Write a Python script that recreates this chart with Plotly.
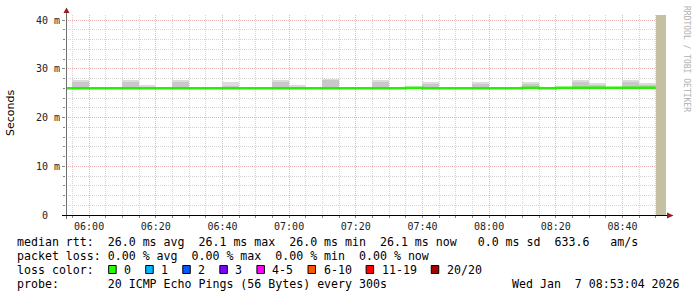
import plotly.graph_objects as go
import pandas as pd

# ---------------- data ----------------
DAY = "2026-01-07"
slot_start = pd.date_range(f"{DAY} 05:50", periods=36, freq="5min")
STEP_MS = 300000

median_ms = [26.0, 26.0, 26.0, 26.0, 26.0, 26.0, 26.0, 26.0, 26.0, 26.0,
             26.0, 26.0, 26.0, 26.0, 26.0, 26.0, 26.0, 26.0, 26.0, 26.0,
             26.0, 26.1, 26.0, 26.0, 26.0, 26.0, 26.0, 26.0, 26.1, 26.0,
             26.1, 26.1, 26.1, 26.1, 26.1, 26.1]

smoke_low = [None, 25.9, None, None, 25.9, 25.9, None, 25.9, None, None,
             25.9, None, None, 25.9, 25.9, None, 25.9, None, None, 25.9,
             None, None, 25.9, None, None, 25.9, None, None, 25.9, None,
             None, 25.9, 25.9, None, 25.9, 25.9]
smoke_mid = [None, 27.3, None, None, 27.3, 26.3, None, 27.4, None, None,
             26.4, None, None, 27.3, 26.3, None, 27.7, None, None, 27.3,
             None, None, 26.9, None, None, 26.9, None, None, 26.9, None,
             None, 27.3, 26.7, None, 27.3, 26.7]
smoke_high = [None, 27.5, None, None, 27.7, 26.5, None, 27.5, None, None,
              27.3, None, None, 27.7, 26.5, None, 27.9, None, None, 27.7,
              None, None, 27.3, None, None, 27.3, None, None, 27.3, None,
              None, 27.5, 26.9, None, 27.5, 26.9]

unknown_start = f"{DAY} 08:50:00"
unknown_end = f"{DAY} 08:53:04"
x_start = f"{DAY} 05:53:04"
x_end = f"{DAY} 08:53:04"
y_top = 41.03

y_tickvals = [0, 10, 20, 30, 40]
y_ticktext = ["0\u00a0\u00a0", "10 m", "20 m", "30 m", "40 m"]

legend_line1 = "median rtt:  26.0 ms avg  26.1 ms max  26.0 ms min  26.1 ms now   0.0 ms sd  633.6   am/s"
legend_line2 = "packet loss: 0.00 % avg  0.00 % max  0.00 % min  0.00 % now"
legend_line3 = "loss color:"
loss_labels = ["0", "1", "2", "3", "4-5", "6-10", "11-19", "20/20"]
loss_colors = ["#26ff00", "#00b8ff", "#0059ff", "#7e00ff", "#ff00ff", "#ff5500", "#ff0000", "#a10000"]
legend_line4 = "probe:       20 ICMP Echo Pings (56 Bytes) every 300s"
date_text = "Wed Jan  7 08:53:04 2026"
watermark = "RRDTOOL / TOBI OETIKER"

# ---------------- geometry helpers ----------------
W, H = 697, 297
L, R, T, B = 66, 666, 15, 215


def px(x):
    return (x - L) / (R - L)


def py(y):
    return (B - y) / (B - T)


def nb(s):
    return s.replace(" ", "\u00a0")


MONO = "DejaVu Sans Mono"
CW = 7.02  # char width of legend font

fig = go.Figure()

# smoke
idx = [i for i in range(len(slot_start)) if smoke_mid[i] is not None]
centers = [slot_start[i] + pd.Timedelta(milliseconds=STEP_MS / 2) for i in idx]
fig.add_trace(go.Bar(
    x=centers, base=[smoke_low[i] for i in idx],
    y=[smoke_mid[i] - smoke_low[i] for i in idx],
    width=[STEP_MS] * len(idx), marker=dict(color="#c8c8c8", line=dict(width=0)),
    hoverinfo="skip"))
fig.add_trace(go.Bar(
    x=centers, base=[smoke_mid[i] for i in idx],
    y=[smoke_high[i] - smoke_mid[i] for i in idx],
    width=[STEP_MS] * len(idx), marker=dict(color="#dcdcdc", line=dict(width=0)),
    hoverinfo="skip"))

# unknown area
us, ue = pd.Timestamp(unknown_start), pd.Timestamp(unknown_end)
fig.add_trace(go.Bar(
    x=[us + (ue - us) / 2], base=[0], y=[y_top],
    width=[(ue - us).total_seconds() * 1000],
    marker=dict(color="#c3c1a1", line=dict(width=0)), hoverinfo="skip"))

# median line
mx = list(slot_start) + [slot_start[-1] + pd.Timedelta(milliseconds=STEP_MS)]
my = median_ms + [median_ms[-1]]
fig.add_trace(go.Scatter(x=mx, y=my, mode="lines", line=dict(color="#26f000", width=2.6, shape="hv"),
                         hoverinfo="skip"))

grid_minor = "#d4d4d4"
grid_major = "#ebb4b4"

fig.update_layout(
    width=W, height=H, margin=dict(l=L, r=W - R, t=T, b=H - B),
    paper_bgcolor="white", plot_bgcolor="white", showlegend=False,
    barmode="overlay", bargap=0,
    xaxis=dict(
        type="date", range=[x_start, x_end],
        tick0=f"{DAY} 06:00", dtick=20 * 60 * 1000, tickformat="%H:%M",
        showgrid=True, gridcolor=grid_major, griddash="1px,1px", gridwidth=1,
        ticks="outside", ticklen=2, tickcolor="#888",
        tickfont=dict(family=MONO, size=10, color="#222"),
        minor=dict(dtick=5 * 60 * 1000, showgrid=True, gridcolor=grid_minor,
                   griddash="1px,1px", ticks="outside", ticklen=2, tickcolor="#888"),
        showline=False, zeroline=False, fixedrange=True,
    ),
    yaxis=dict(
        range=[0, y_top], tickvals=y_tickvals, ticktext=y_ticktext,
        showgrid=True, gridcolor=grid_major, griddash="1px,1px", gridwidth=1,
        ticks="outside", ticklen=3, tickcolor="#888",
        tickfont=dict(family=MONO, size=10, color="#222"),
        minor=dict(dtick=2, showgrid=True, gridcolor=grid_minor,
                   griddash="1px,1px", ticks="outside", ticklen=2, tickcolor="#888"),
        showline=False, zeroline=False, fixedrange=True,
    ),
)

shapes = []
# axis lines
shapes.append(dict(type="line", xref="paper", yref="paper", x0=px(66.5), x1=px(66.5),
                   y0=py(219), y1=py(11), line=dict(color="#707070", width=1)))
shapes.append(dict(type="line", xref="paper", yref="paper", x0=px(62), x1=px(668),
                   y0=py(215.5), y1=py(215.5), line=dict(color="#000", width=1)))
# arrows
arrow_col = "#9b1c1c"
shapes.append(dict(type="path", xref="paper", yref="paper",
                   path=f"M {px(63.5)} {py(13)} L {px(69.5)} {py(13)} L {px(66.5)} {py(7.5)} Z",
                   fillcolor=arrow_col, line=dict(width=0)))
shapes.append(dict(type="path", xref="paper", yref="paper",
                   path=f"M {px(667)} {py(212.5)} L {px(667)} {py(218.5)} L {px(673.5)} {py(215.5)} Z",
                   fillcolor=arrow_col, line=dict(width=0)))

annotations = []
ann_font = dict(family=MONO, size=11.6, color="#000")


def text_at(x, ycenter, s, anchor="left", font=ann_font):
    annotations.append(dict(xref="paper", yref="paper", x=px(x), y=py(ycenter),
                            xanchor=anchor, yanchor="middle", text=nb(s), showarrow=False,
                            font=font, borderpad=0))


X0 = 16
text_at(X0, 241.5, legend_line1)
text_at(X0, 255.5, legend_line2)
text_at(X0, 269.5, legend_line3)
text_at(X0, 283.5, legend_line4)
text_at(681, 283.5, date_text, anchor="right")

# loss color swatches
bx = X0 + 13 * CW + 1.4
for lab, col in zip(loss_labels, loss_colors):
    shapes.append(dict(type="rect", xref="paper", yref="paper",
                       x0=px(bx), x1=px(bx + 7.5), y0=py(273.5), y1=py(265.5),
                       fillcolor=col, line=dict(color="#000", width=1)))
    text_at(bx + 14.5, 269.5, lab)
    bx += 16 + (len(lab) + 2) * CW

# y axis title
annotations.append(dict(xref="paper", yref="paper", x=px(10), y=py(113), xanchor="center",
                        yanchor="middle", text="Seconds", textangle=-90, showarrow=False,
                        font=dict(family="DejaVu Sans", size=11, color="#000")))
# watermark
annotations.append(dict(xref="paper", yref="paper", x=px(687), y=py(4), xanchor="center",
                        yanchor="top", text=nb(watermark), textangle=90, showarrow=False,
                        font=dict(family=MONO, size=8, color="#b0b0b0")))

fig.update_layout(shapes=shapes, annotations=annotations)
fig.write_html("out.html")
